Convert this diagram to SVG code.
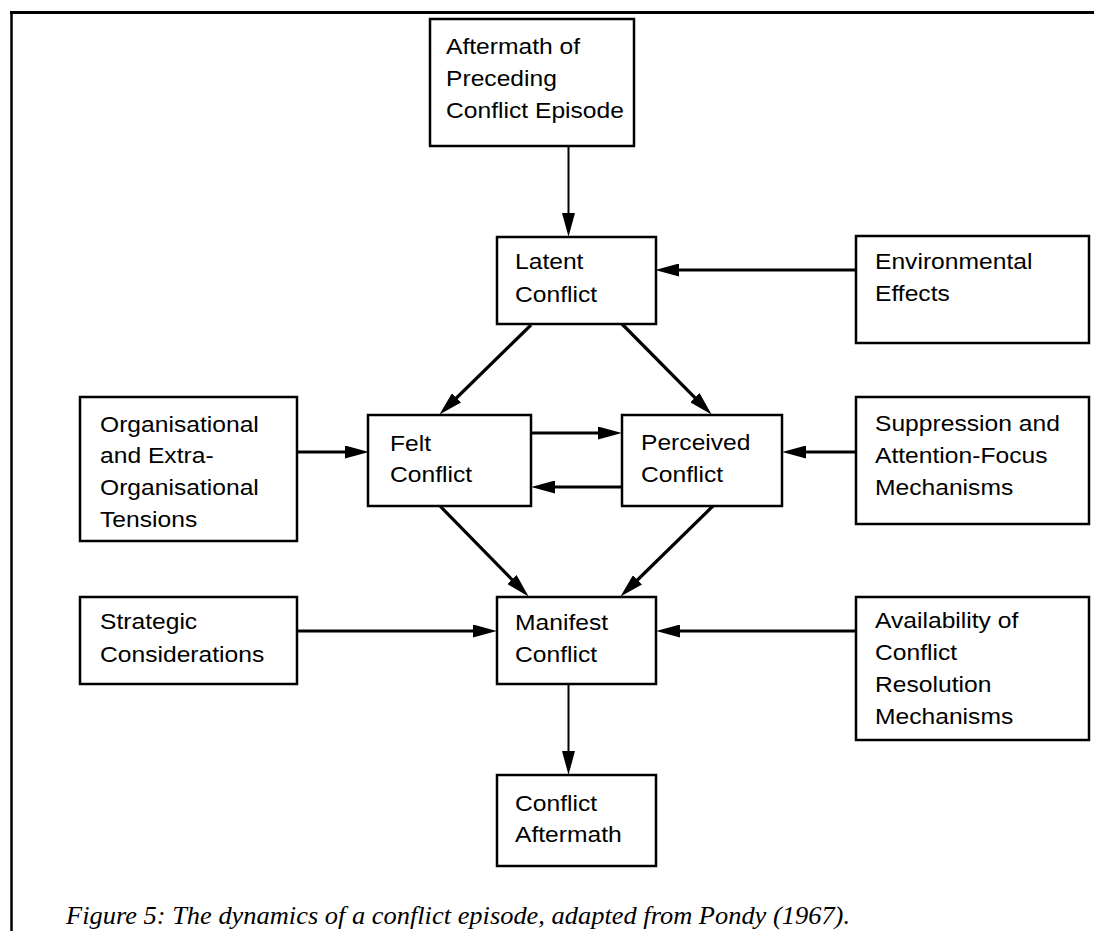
<svg xmlns="http://www.w3.org/2000/svg" width="1094" height="931" viewBox="0 0 1094 931">
<style>
.box{fill:#fff;stroke:#000;stroke-width:2.5}
.lbl{font-family:"Liberation Sans",Arial,Helvetica,sans-serif;font-size:22px;fill:#000}
.cap{font-family:"Liberation Serif","Times New Roman",serif;font-style:italic;font-size:25px;fill:#000}
.ln{stroke:#000;stroke-width:2.8;fill:none;marker-end:url(#ah)}
.ld{stroke:#000;stroke-width:3.2;fill:none;marker-end:url(#ah)}
.lv{stroke:#000;stroke-width:2;fill:none;marker-end:url(#ah)}
.frame{stroke:#000;fill:none}
</style>
<defs>
<marker id="ah" markerUnits="userSpaceOnUse" markerWidth="24" markerHeight="13" viewBox="0 0 22 12" refX="12" refY="6" orient="auto">
<path d="M0,0 L22,6 L0,12 z" fill="#000"/>
</marker>
</defs>
<rect width="1094" height="931" fill="#fff"/>
<g id="frame">
<line class="frame" x1="10" y1="12.5" x2="1094" y2="12.5" stroke-width="3"/>
<line class="frame" x1="11.5" y1="11" x2="11.5" y2="931" stroke-width="2.5"/>
</g>
<g id="connectors">
<line class="lv" x1="568.5" y1="146" x2="568.5" y2="226"/>
<line class="ln" x1="856" y1="270" x2="666" y2="270"/>
<line class="ld" x1="531" y1="325" x2="447.2" y2="407"/>
<line class="ld" x1="622" y1="324" x2="704" y2="406.9"/>
<line class="ln" x1="297" y1="452" x2="358" y2="452"/>
<line class="ln" x1="531" y1="433" x2="611" y2="433"/>
<line class="ln" x1="622" y1="487" x2="542" y2="487"/>
<line class="ln" x1="856" y1="452" x2="793" y2="452"/>
<line class="ld" x1="440" y1="506" x2="521" y2="588.8"/>
<line class="ld" x1="713" y1="506" x2="628.2" y2="589"/>
<line class="ln" x1="297" y1="631" x2="486" y2="631"/>
<line class="ln" x1="856" y1="631" x2="667" y2="631"/>
<line class="lv" x1="568.5" y1="684" x2="568.5" y2="764"/>
</g>
<g id="node-aftermath-preceding">
<rect class="box" x="430" y="19" width="204" height="127"/>
<g transform="translate(446 0) scale(1.12 1)"><text class="lbl" x="0" y="54">Aftermath of</text><text class="lbl" x="0" y="86">Preceding</text><text class="lbl" x="0" y="118">Conflict Episode</text></g>
</g>
<g id="node-latent">
<rect class="box" x="497" y="237" width="159" height="87"/>
<g transform="translate(515 0) scale(1.12 1)"><text class="lbl" x="0" y="269">Latent</text><text class="lbl" x="0" y="302">Conflict</text></g>
</g>
<g id="node-environmental">
<rect class="box" x="856" y="236" width="233" height="107"/>
<g transform="translate(875 0) scale(1.12 1)"><text class="lbl" x="0" y="269">Environmental</text><text class="lbl" x="0" y="301">Effects</text></g>
</g>
<g id="node-organisational">
<rect class="box" x="80" y="397" width="217" height="144"/>
<g transform="translate(100 0) scale(1.12 1)"><text class="lbl" x="0" y="432">Organisational</text><text class="lbl" x="0" y="463">and Extra-</text><text class="lbl" x="0" y="495">Organisational</text><text class="lbl" x="0" y="527">Tensions</text></g>
</g>
<g id="node-felt">
<rect class="box" x="368" y="415" width="163" height="91"/>
<g transform="translate(390 0) scale(1.12 1)"><text class="lbl" x="0" y="451">Felt</text><text class="lbl" x="0" y="482">Conflict</text></g>
</g>
<g id="node-perceived">
<rect class="box" x="622" y="415" width="160" height="91"/>
<g transform="translate(641 0) scale(1.12 1)"><text class="lbl" x="0" y="450">Perceived</text><text class="lbl" x="0" y="482">Conflict</text></g>
</g>
<g id="node-suppression">
<rect class="box" x="856" y="397" width="233" height="127"/>
<g transform="translate(875 0) scale(1.12 1)"><text class="lbl" x="0" y="431">Suppression and</text><text class="lbl" x="0" y="463">Attention-Focus</text><text class="lbl" x="0" y="495">Mechanisms</text></g>
</g>
<g id="node-strategic">
<rect class="box" x="80" y="597" width="217" height="87"/>
<g transform="translate(100 0) scale(1.12 1)"><text class="lbl" x="0" y="629">Strategic</text><text class="lbl" x="0" y="662">Considerations</text></g>
</g>
<g id="node-manifest">
<rect class="box" x="497" y="597" width="159" height="87"/>
<g transform="translate(515 0) scale(1.12 1)"><text class="lbl" x="0" y="630">Manifest</text><text class="lbl" x="0" y="662">Conflict</text></g>
</g>
<g id="node-availability">
<rect class="box" x="856" y="597" width="233" height="143"/>
<g transform="translate(875 0) scale(1.12 1)"><text class="lbl" x="0" y="628">Availability of</text><text class="lbl" x="0" y="660">Conflict</text><text class="lbl" x="0" y="692">Resolution</text><text class="lbl" x="0" y="724">Mechanisms</text></g>
</g>
<g id="node-conflict-aftermath">
<rect class="box" x="497" y="775" width="159" height="91"/>
<g transform="translate(515 0) scale(1.12 1)"><text class="lbl" x="0" y="811">Conflict</text><text class="lbl" x="0" y="842">Aftermath</text></g>
</g>
<text class="cap" x="66" y="924" textLength="784" lengthAdjust="spacingAndGlyphs">Figure 5: The dynamics of a conflict episode, adapted from Pondy (1967).</text>
</svg>
